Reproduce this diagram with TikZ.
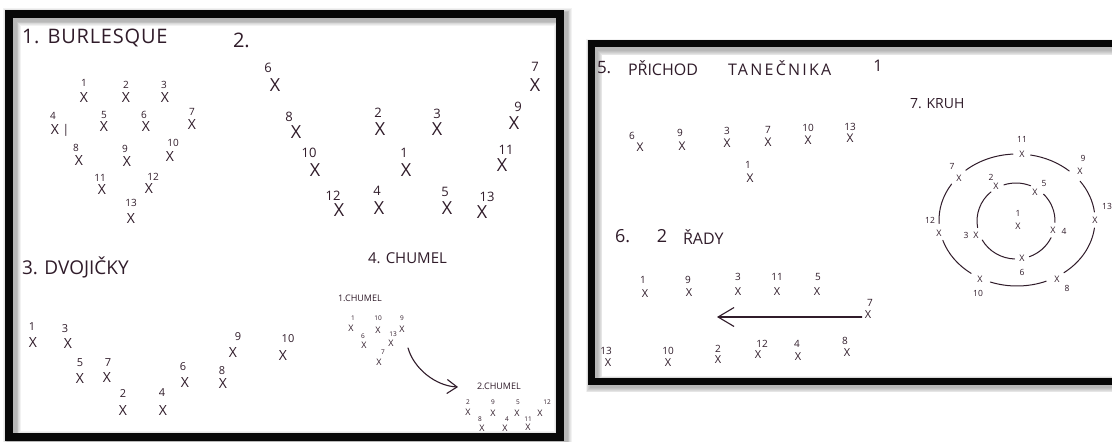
\documentclass[tikz,border=0pt]{standalone}
\usepackage{fontspec}
\setmainfont{Open Sans}
\usetikzlibrary{arrows.meta,calc}
\definecolor{ink}{RGB}{48,28,42}
\definecolor{frm}{RGB}{8,8,8}
\begin{document}
\begin{tikzpicture}[x=1pt,y=-1pt,
  every node/.style={inner sep=0pt,outer sep=0pt,text=ink},
  fs/.style={font=\fontsize{#1}{#1}\selectfont},
  ttl/.style={fs=#1,anchor=west},
  frame/.style={draw=frm,line width=8pt},
  shadowline/.style={draw=black,opacity=0.05,line width=#1},
  ink line/.style={draw=ink,line width=1.1pt,line cap=round},
  circ/.style={draw=ink,line width=1pt,line cap=round}]
\useasboundingbox (0,0) rectangle (1112,442);
\fill[white] (0,0) rectangle (1112,442);
% shadows
\foreach \i in {1,...,6}{
  \draw[shadowline={8pt+1.6pt*\i}] (12,17) rectangle (563,440);
  \draw[shadowline={7pt+1.6pt*\i}] (594,47) rectangle (1125,384);
}
% frames
\draw[frame] (9,14) rectangle (560,437);
\draw[frame,line width=7pt] (591.5,43.5) rectangle (1125,381.5);

% ---------- panel 1
\node[ttl=20] (t1) at (22,38) {\addfontfeatures{LetterSpace=4}1. BURLESQUE};
\node[ttl=20] (t2) at (233,40) {2.};
\foreach \x/\y/\l/\lx/\ly in {84/98/1/84/83, 126/98/2/126/85, 165/98/3/164/85, 55/130/4/53/116, 104/127/5/104/115, 146/127/6/144/115, 192/125/7/192/112, 79/161/8/76/148, 127/162/9/125/149, 170/157/10/173/143, 102/190/11/100/178, 149/188/12/153/177, 131/218/13/131/203}{
  \node[fs=14] (a\l) at (\x,\y) {X};
  \node[fs=10] (al\l) at (\lx,\ly) {\l};
}
\node[fs=12] (abar) at (66,130) {|};

% ---------- panel 2
\foreach \x/\y/\l/\lx/\ly in {275/85/6/268/68, 296/132/8/289/117, 315/170/10/309/153, 339/210/12/333/196, 379/208/4/377/191, 380/129/2/378/113, 406/170/1/404/153, 437/129/3/437/114, 447/208/5/445/192, 482/212/13/487/197, 502/165/11/506/150, 514/123/9/518/107, 535/85/7/535/67}{
  \node[fs=18] (b\l) at (\x,\y) {X};
  \node[fs=13] (bl\l) at (\lx,\ly) {\l};
}

% ---------- panel 3
\node[ttl=19] (t3) at (22,267) {3. DVOJIČKY};
\foreach \x/\y/\l/\lx/\ly in {33/342/1/32/327, 68/343/3/65/329, 80/378/5/80/363, 107/377/7/108/363, 123/410/2/123/394, 163/410/4/162/393, 185/382/6/183/367, 223/383/8/222/371, 233/352/9/238/337, 283/355/10/288/339}{
  \node[fs=14] (c\l) at (\x,\y) {X};
  \node[fs=11] (cl\l) at (\lx,\ly) {\l};
}

% ---------- panel 4
\node[ttl=15] (t4) at (368,258) {4. CHUMEL};
\node[ttl=9] (t4a) at (338,298) {1.CHUMEL};
\node[ttl=9] (t4b) at (477,386) {2.CHUMEL};
\foreach \x/\y/\l/\lx/\ly in {351/328/1/353/318, 378/330/10/378/318, 402/329/9/402/318, 364/345/6/363/336, 391/343/13/393/334, 379/362/7/383/352}{
  \node[fs=9] (d\l) at (\x,\y) {X};
  \node[fs=6.5] (dl\l) at (\lx,\ly) {\l};
}
\foreach \x/\y/\l/\lx/\ly in {468/412/2/468/402, 493/413/9/493/402, 517/413/5/518/402, 540/413/12/547/402, 482/428/8/480/419, 505/428/4/507/419, 528/427/11/528/419}{
  \node[fs=9] (e\l) at (\x,\y) {X};
  \node[fs=6.5] (el\l) at (\lx,\ly) {\l};
}
\coordinate (arA) at (408,348);
\coordinate (arB) at (458,387);
\draw[ink line,-{Straight Barb[length=10pt,width=14pt]}] (arA) .. controls (414,369) and (436,386) .. (arB);

% ---------- panel 5
\node[ttl=17] (t5a) at (597,68) {5.};
\node[ttl=16] (t5b) at (628,68) {PŘICHOD};
\node[ttl=16] (t5c) at (728,68) {\addfontfeatures{LetterSpace=14}TANEČNIKA};
\node[fs=16] (t5d) at (878,66) {1};
\foreach \x/\y/\l/\lx/\ly in {640/147/6/632/136, 682/146/9/680/133, 727/143/3/727/131, 768/142/7/768/130, 808/140/10/808/128, 850/138/13/850/127, 750/178/1/748/165}{
  \node[fs=12] (f\l) at (\x,\y) {X};
  \node[fs=10] (fl\l) at (\lx,\ly) {\l};
}

% ---------- panel 6
\node[ttl=18] (t6a) at (615,236) {6.};
\node[fs=18] (t6b) at (662,236) {2};
\node[ttl=16] (t6c) at (683,237) {ŘADY};
\foreach \x/\y/\l/\lx/\ly in {645/294/1/643/280, 689/293/9/688/280, 738/292/3/738/277, 777/292/11/777/277, 817/292/5/818/277, 868/315/7/870/303, 608/363/13/606/351, 668/363/10/668/351, 718/360/2/718/349, 758/355/12/762/344, 798/357/4/797/344, 847/353/8/845/341}{
  \node[fs=11] (g\l) at (\x,\y) {X};
  \node[fs=10] (gl\l) at (\lx,\ly) {\l};
}
\coordinate (arC) at (717,317);
\draw[ink line,-{Straight Barb[length=16pt,width=19pt]}] (g7.west) ++(-3,2) coordinate (arS) -- (arC);

% ---------- panel 7
\node[ttl=14] (t7) at (910,104) {7. KRUH};
\foreach \x/\y/\l/\lx/\ly in {1022/154/11/1022/139, 959/178/7/952/166, 1080/171/9/1083/158, 939/233/12/930/220, 1095/220/13/1107/206, 980/279/10/978/293, 1057/279/8/1067/288, 996/186/2/991/177, 1035/192/5/1044/184, 1053/230/4/1064/231, 1022/258/6/1022/272, 976/235/3/966/235, 1018/226/1/1018/213}{
  \node[fs=9] (h\l) at (\x,\y) {X};
  \node[fs=8.5] (hl\l) at (\lx,\ly) {\l};
}
\coordinate (oc) at (1017,220);
\coordinate (ic) at (1016,221);
\foreach \s/\e in {80/48, 36/7, -7/-53, -68/-110, -126/-162, 183/147, 131/93}{
  \draw[circ] ($(oc)+(-\s:78 and 66)$) arc[start angle=-\s,end angle=-\e,x radius=78,y radius=66];
}
\foreach \s/\e in {108/68, 45/-2, -26/-70, -92/-150, 190/130}{
  \draw[circ] ($(ic)+(-\s:39 and 38)$) arc[start angle=-\s,end angle=-\e,x radius=39,y radius=38];
}
\end{tikzpicture}
\end{document}
